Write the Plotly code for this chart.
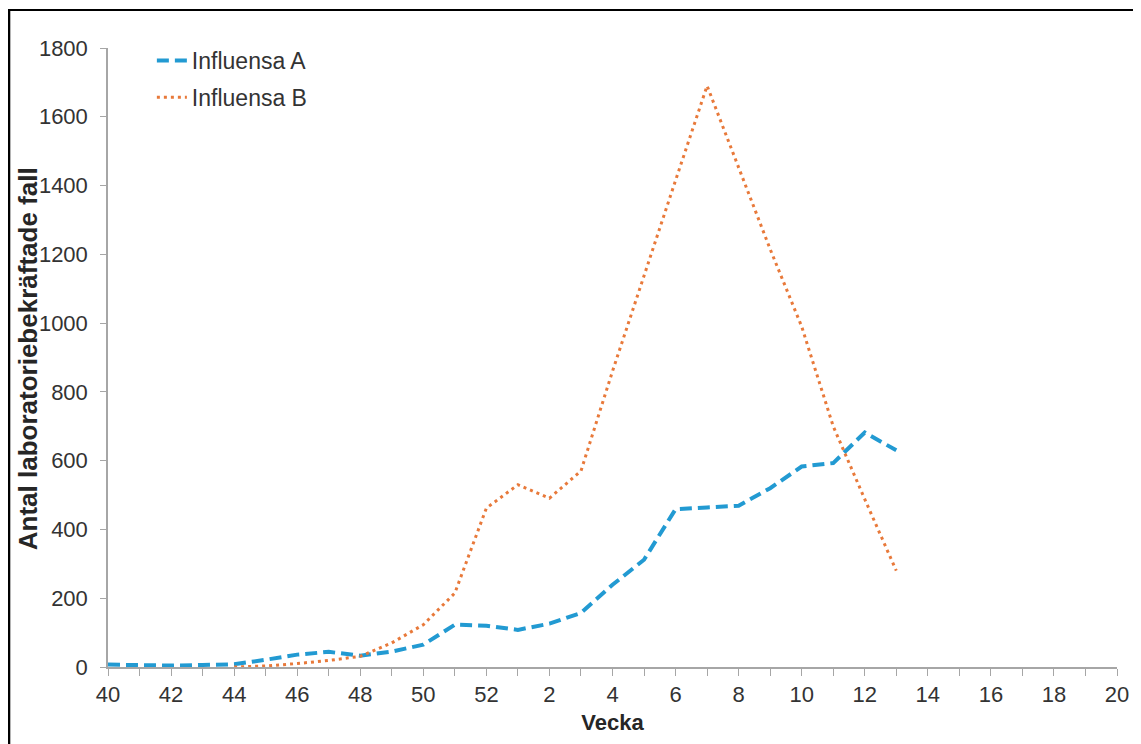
import plotly.graph_objects as go

# Week categories (season 40 -> 20)
weeks = ["40", "41", "42", "43", "44", "45", "46", "47", "48", "49", "50", "51", "52",
         "1", "2", "3", "4", "5", "6", "7", "8", "9", "10", "11", "12", "13",
         "14", "15", "16", "17", "18", "19", "20"]

# Laboratory-confirmed cases per week
influensa_a = [7, 5, 4, 6, 8, 21, 36, 44, 33, 45, 65, 123, 120,
               108, 126, 157, 239, 312, 459, 464, 469, 520, 583, 593, 682, 630,
               None, None, None, None, None, None, None]
influensa_b = [None, None, None, None, 0, 3, 10, 19, 31, 70, 123, 215, 462,
               530, 491, 570, 860, 1140, 1415, 1690, 1450, 1215, 990, 700, 488, 280,
               None, None, None, None, None, None, None]

# Tick labels: every other week
tick_text = [w if i % 2 == 0 else "" for i, w in enumerate(weeks)]

FONT = "Liberation Sans, Arial, sans-serif"
OFF = 8                      # page body margin
W, H = 1141 - OFF, 744 - OFF
# plot area in screen coordinates
SX0, SX1, SY0, SY1 = 108, 1120, 48, 667
L, R = SX0 - OFF, (1141 - SX1)
T, B = SY0 - OFF, (744 - SY1)
pw, ph = SX1 - SX0, SY1 - SY0


def px_x(x):
    return (x - SX0) / pw


def px_y(y):
    return (SY1 - y) / ph


fig = go.Figure()
fig.add_trace(go.Scatter(
    x=weeks, y=influensa_a, name="Influensa A", mode="lines",
    legendgroup="a",
    line=dict(color="#229AD2", width=4, dash="12px,6px"),
    connectgaps=False,
))
fig.add_trace(go.Scatter(
    x=weeks, y=influensa_b, name="Influensa B", mode="lines",
    legendgroup="b",
    line=dict(color="#E8793A", width=3, dash="3px,4px"),
    connectgaps=False,
))

fig.update_layout(
    width=W, height=H,
    margin=dict(l=L, r=R, t=T, b=B, pad=0),
    paper_bgcolor="white", plot_bgcolor="white",
    font=dict(family=FONT, size=22, color="#333333"),
    showlegend=True,
    legend=dict(
        x=px_x(152), y=px_y(39), xanchor="left", yanchor="top",
        bgcolor="rgba(0,0,0,0)", font=dict(size=23, color="#333333"),
        itemwidth=30, tracegroupgap=4,
    ),
    xaxis=dict(
        type="category", categoryorder="array", categoryarray=weeks,
        range=[0, len(weeks) - 1],
        tickmode="array", tickvals=weeks, ticktext=tick_text,
        ticks="outside", ticklen=7, tickcolor="#A6A6A6", tickwidth=1,
        showline=True, linecolor="#A6A6A6", linewidth=1.5,
        showgrid=False, zeroline=False,
        tickfont=dict(size=22, color="#333333"),
        title=dict(text="<b>Vecka</b>", font=dict(size=22, color="#262626"), standoff=8),
    ),
    yaxis=dict(
        range=[0, 1800], tickmode="array",
        tickvals=[0, 200, 400, 600, 800, 1000, 1200, 1400, 1600, 1800],
        ticks="outside", ticklen=6, tickcolor="#A6A6A6", tickwidth=1,
        showline=True, linecolor="#A6A6A6", linewidth=1.5,
        showgrid=False, zeroline=False,
        tickfont=dict(size=22, color="#333333"),
        ticklabelstandoff=8,
    ),
    annotations=[
        dict(text="<b>Antal laboratoriebekräftade fall</b>", textangle=-90,
             xref="paper", yref="paper", x=px_x(28), y=px_y(359),
             xanchor="center", yanchor="middle", showarrow=False,
             font=dict(size=26, color="#262626")),
    ],
    shapes=[
        dict(type="line", xref="paper", yref="paper",
             x0=px_x(8.5), x1=px_x(8.5), y0=px_y(9), y1=px_y(760),
             line=dict(color="black", width=3)),
        dict(type="line", xref="paper", yref="paper",
             x0=px_x(7), x1=px_x(1160), y0=px_y(10), y1=px_y(10),
             line=dict(color="black", width=2)),
    ],
)

fig.write_html("out.html")
